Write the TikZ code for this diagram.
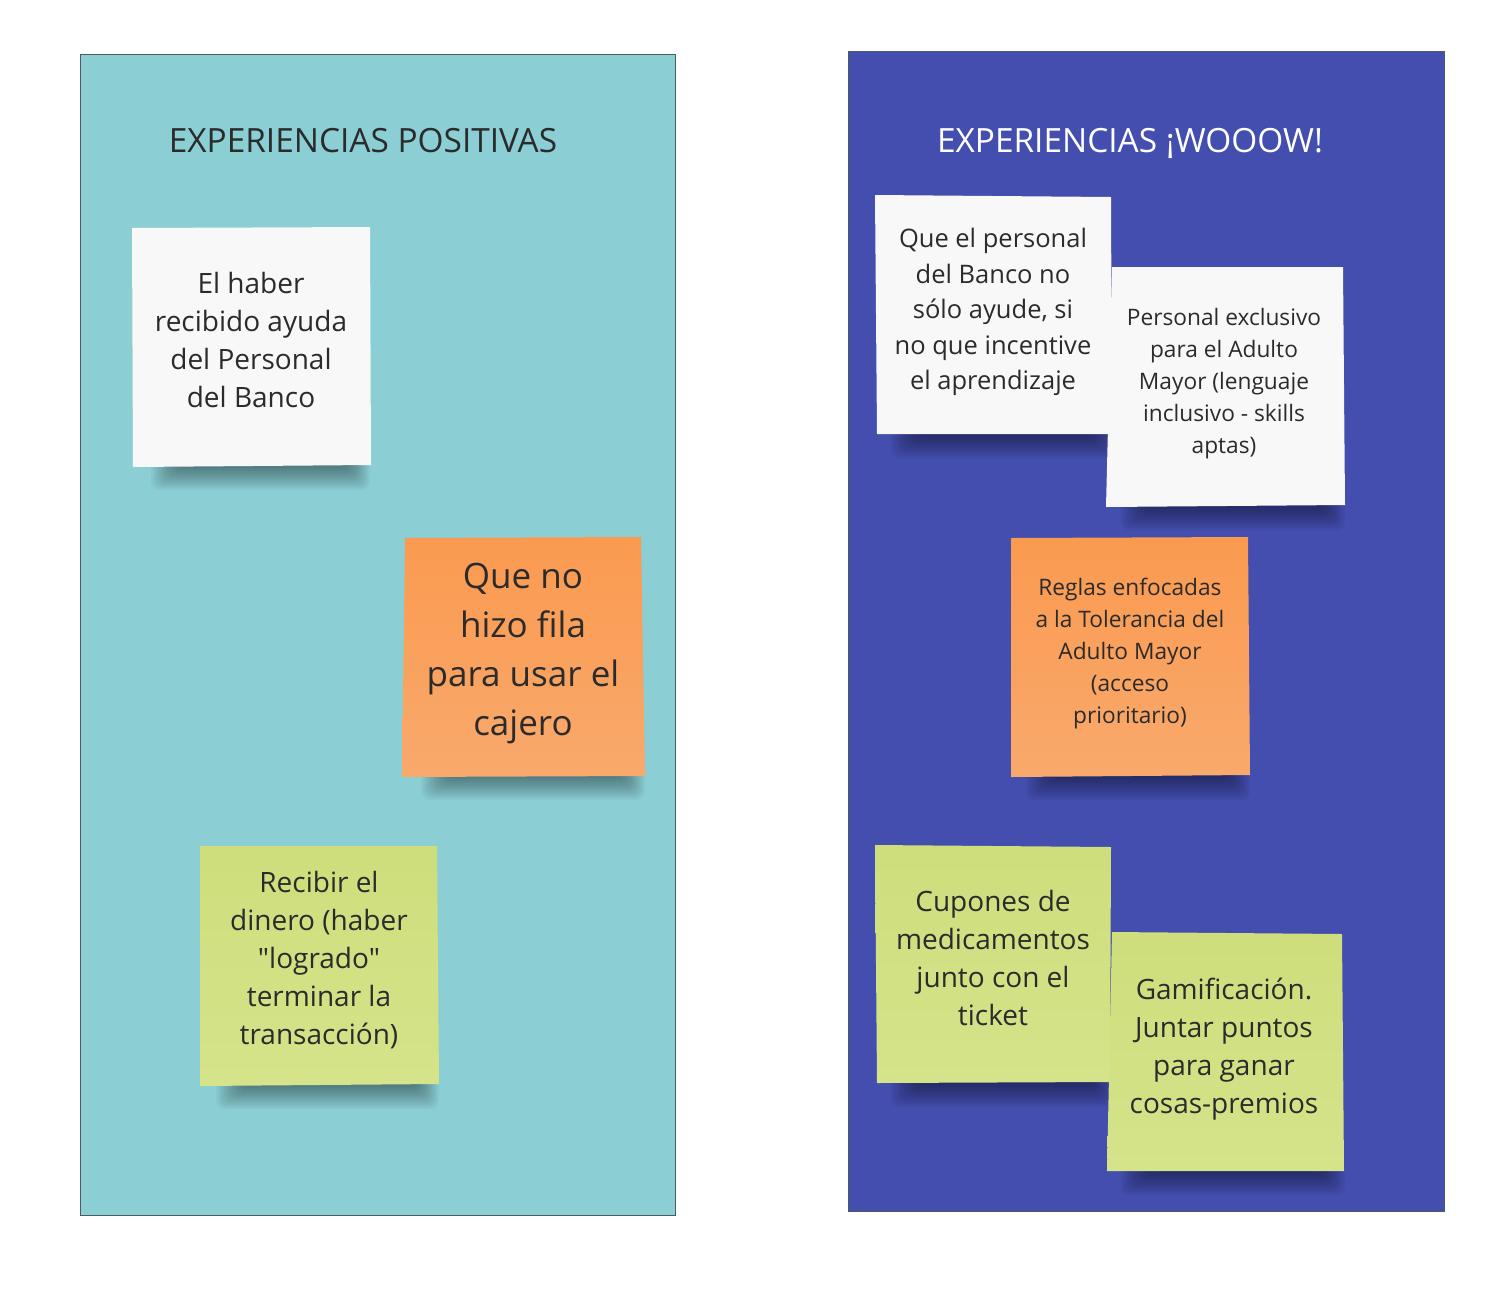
\documentclass[tikz,border=0pt]{standalone}
\usepackage{fontspec}
\setmainfont{Open Sans}[Ligatures=TeXOff]
\definecolor{panelA}{HTML}{8BCFD5}
\definecolor{panelB}{HTML}{434EAE}
\definecolor{panelEdge}{HTML}{4A5C62}
\definecolor{noteW}{HTML}{F8F8F8}
\definecolor{noteOtop}{HTML}{FA9A50}
\definecolor{noteObot}{HTML}{F9A96C}
\definecolor{noteGtop}{HTML}{CEDE7C}
\definecolor{noteGbot}{HTML}{D5E38A}
\definecolor{inkc}{HTML}{2B2B2B}
\tikzset{
  panel/.style={draw=panelEdge, line width=0.5pt},
  shadlayer/.style={fill=black, opacity=0.032, rounded corners=4pt},
  whitenote/.style={fill=noteW},
  orangenote/.style={top color=noteOtop, bottom color=noteObot},
  greennote/.style={top color=noteGtop, bottom color=noteGbot},
  txt/.style={align=center, text=inkc, inner sep=0pt},
  title/.style={inner sep=0pt, anchor=base, font=\fontsize{16.7}{20}\selectfont},
}
% #1 left x, #2 right x, #3 bottom y of the note
\newcommand\noteshadow[3]{%
  \foreach \k in {0,...,13}{\path[shadlayer] (#1+12-2*\k,#3-8) rectangle (#2-6+1.6*\k,#3+2+1.7*\k);}%
}
\begin{document}
\begin{tikzpicture}[x=0.5pt, y=-0.5pt]
\useasboundingbox (0,0) rectangle (1506,1292);
\fill[white] (0,0) rectangle (1506,1292);
% panels
\path[panel, fill=panelA] (80,54) rectangle (675,1215);
\path[panel, fill=panelB] (848,51) rectangle (1444,1211);
\node[title, text=inkc] (t1) at (363,152) {EXPERIENCIAS POSITIVAS};
\node[title, text=white] (t2) at (1130,152) {EXPERIENCIAS ¡WOOOW!};
% note 1
\noteshadow{165}{355}{466}
\path[whitenote] (132,228) -- (370,227) -- (371,465) -- (133,467) -- cycle;
\node[txt, font=\fontsize{14}{19}\selectfont] (n1) at (251,340) {El haber\\recibido ayuda\\del Personal\\del Banco};
% note 2
\noteshadow{435}{630}{776}
\path[orangenote] (405,538) -- (641,537) -- (645,776) -- (402,777) -- cycle;
\node[txt, font=\fontsize{17.5}{24.5}\selectfont] (n2) at (523,654) {Que no\\hizo fila\\para usar el\\cajero};
% note 3
\noteshadow{230}{424}{1085}
\path[greennote] (200,846) -- (437,846) -- (439,1084) -- (200,1086) -- cycle;
\node[txt, font=\fontsize{14}{19}\selectfont] (n3) at (319,960) {Recibir el\\dinero (haber\\"logrado"\\terminar la\\transacción)};
% note 4
\noteshadow{905}{1100}{434}
\path[whitenote] (875,195) -- (1111,197) -- (1112,434) -- (877,434) -- cycle;
\node[txt, font=\fontsize{12.75}{17.75}\selectfont] (n4) at (993,312) {Que el personal\\del Banco no\\sólo ayude, si\\no que incentive\\el aprendizaje};
% note 5
\noteshadow{1135}{1330}{506}
\path[whitenote] (1112,267) -- (1343,267) -- (1345,505) -- (1106,507) -- cycle;
\node[txt, font=\fontsize{11.35}{16}\selectfont] (n5) at (1224,384) {Personal exclusivo\\para el Adulto\\Mayor (lenguaje\\inclusivo - skills\\aptas)};
% note 6
\noteshadow{1040}{1235}{776}
\path[orangenote] (1011,538) -- (1248,537) -- (1250,775) -- (1011,777) -- cycle;
\node[txt, font=\fontsize{11.35}{16}\selectfont] (n6) at (1130,654) {Reglas enfocadas\\a la Tolerancia del\\Adulto Mayor\\(acceso\\prioritario)};
% note 7
\noteshadow{905}{1100}{1083}
\path[greennote] (875,845) -- (1111,847) -- (1110,1082) -- (877,1083) -- cycle;
\node[txt, font=\fontsize{14}{19}\selectfont] (n7) at (993,958) {Cupones de\\medicamentos\\junto con el\\ticket};
% note 8
\noteshadow{1135}{1330}{1171}
\path[greennote] (1112,932) -- (1342,934) -- (1344,1171) -- (1107,1171) -- cycle;
\node[txt, font=\fontsize{14}{19}\selectfont] (n8) at (1224,1049) {Gamificación.\\Juntar puntos\\para ganar\\cosas-premios};
\end{tikzpicture}
\end{document}
